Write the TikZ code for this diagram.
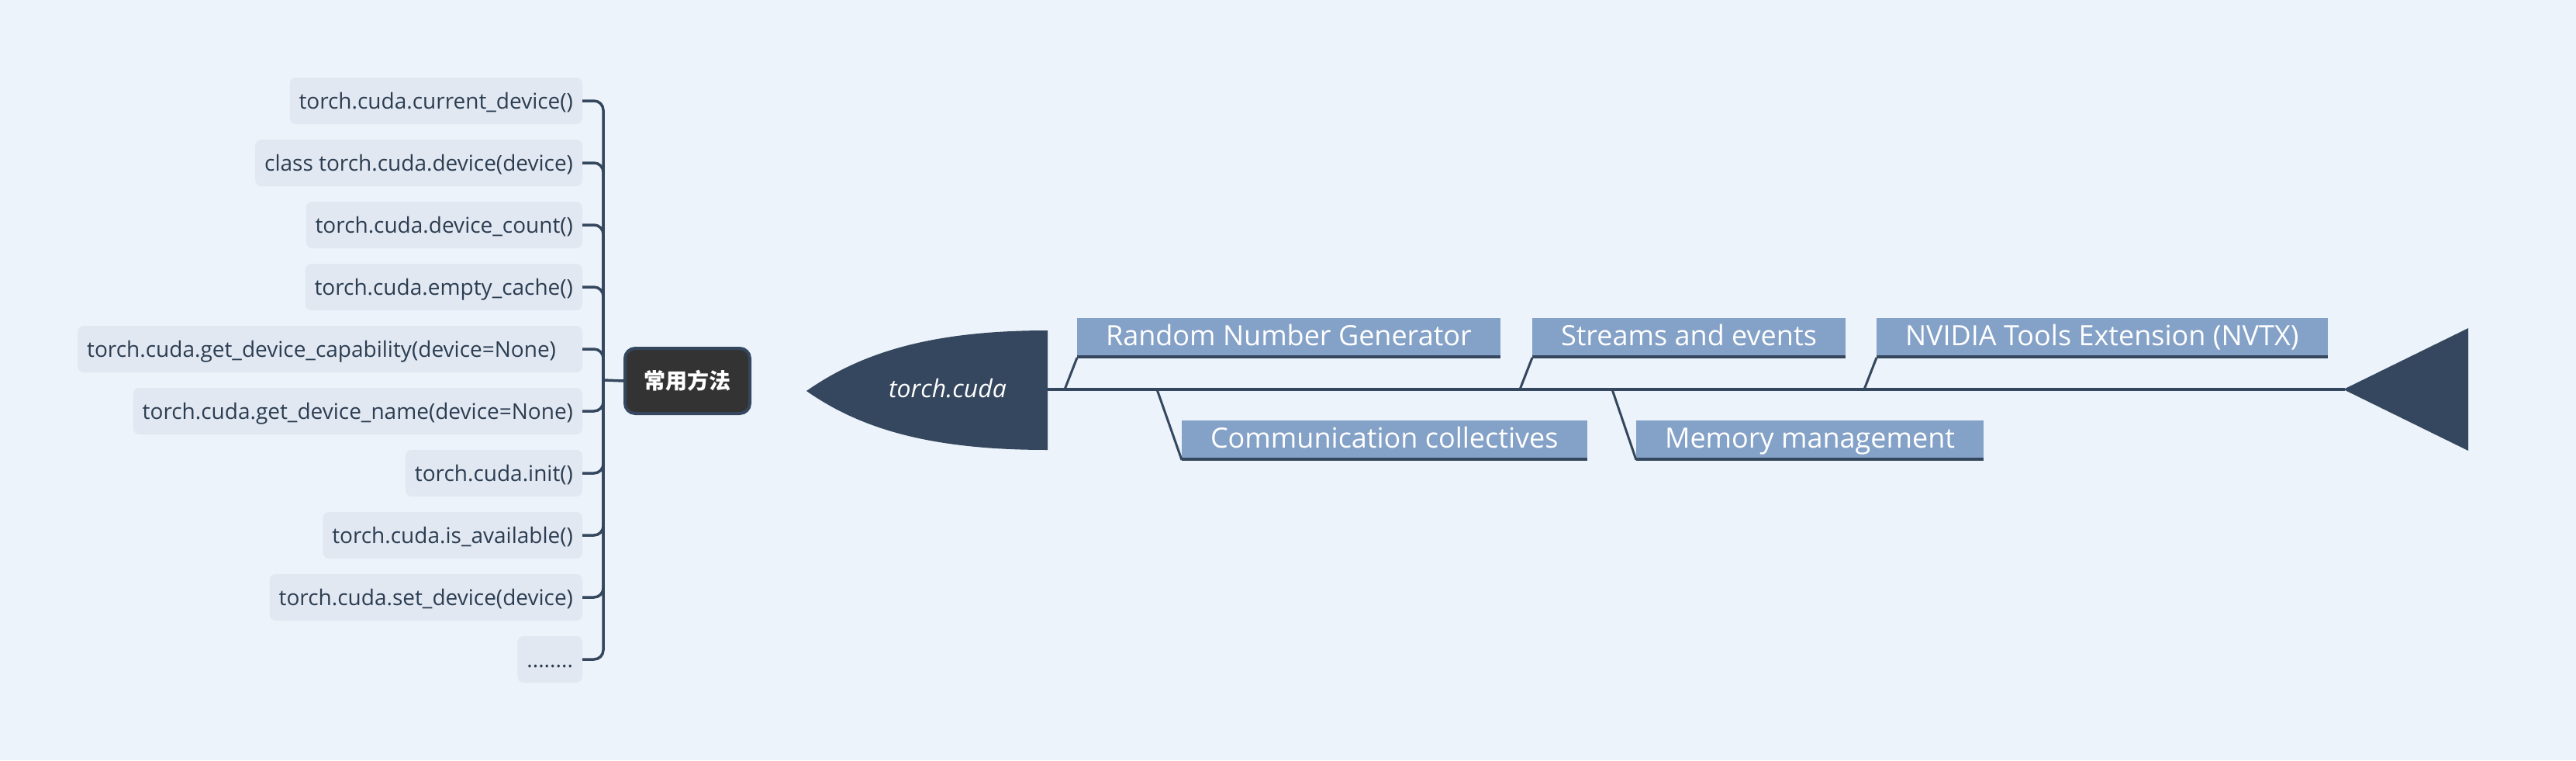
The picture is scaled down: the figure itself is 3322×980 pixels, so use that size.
\documentclass[tikz,border=0pt]{standalone}
\usepackage{fontspec}
\setmainfont{Open Sans}
\newfontfamily\cjk{Noto Sans CJK SC}
\definecolor{bg}{HTML}{ECF3FA}
\definecolor{itemfill}{HTML}{E1E8F1}
\definecolor{itemtext}{HTML}{2C3D52}
\definecolor{bone}{HTML}{35475E}
\definecolor{topicfill}{HTML}{84A1C8}
\definecolor{darkbox}{HTML}{333333}
\begin{document}
\begin{tikzpicture}[x=1pt,y=-1pt,
  item/.style={rectangle, rounded corners=8pt, fill=itemfill, text=itemtext,
    font=\fontsize{28}{34}\selectfont, minimum height=60pt, inner xsep=12pt,
    inner ysep=0pt, outer sep=0pt, text height=24pt, text depth=4pt, anchor=east},
  conn/.style={draw=bone, line width=3.5pt, rounded corners=12pt},
  topic/.style={rectangle, fill=topicfill, text=white,
    font=\fontsize{36}{44}\selectfont, minimum height=48pt, inner xsep=37pt,
    inner ysep=0pt, outer sep=0pt, text height=28pt, text depth=6pt},
  bonelink/.style={draw=bone, line width=3pt},
  ul/.style={draw=bone, line width=4pt},
  spine/.style={draw=bone, line width=4pt}
]
\useasboundingbox (0,0) rectangle (3322,980);
\fill[bg] (0,0) rectangle (3322,980);

% left list
\node[item] (i1) at (751,130) {torch.cuda.current\_device()};
\node[item] (i2) at (751,210) {class torch.cuda.device(device)};
\node[item] (i3) at (751,290) {torch.cuda.device\_count()};
\node[item] (i4) at (751,370) {torch.cuda.empty\_cache()};
\node[item] (i5) at (751,450) {torch.cuda.get\_device\_capability(device=None)\kern22pt};
\node[item] (i6) at (751,530) {torch.cuda.get\_device\_name(device=None)};
\node[item] (i7) at (751,610) {torch.cuda.init()};
\node[item] (i8) at (751,690) {torch.cuda.is\_available()};
\node[item] (i9) at (751,770) {torch.cuda.set\_device(device)};
\node[item] (i10) at (751,850) {........};

\node[rectangle, rounded corners=13pt, fill=darkbox, draw=bone, line width=4pt,
  minimum width=161pt, minimum height=84pt, inner sep=0pt, text=white,
  font=\cjk\bfseries\fontsize{28}{34}\selectfont] (cy) at (886.5,491) {常用方法};
\coordinate (hub) at (778,490);
\draw[conn] (hub) -- (cy.west);
\foreach \i in {1,...,10}{
  \draw[conn] (i\i.east) -| (hub);
}

% fishbone head
\fill[bone] (1040,504) .. controls (1110,455) and (1200,426) .. (1351,426)
  -- (1351,580) .. controls (1200,580) and (1110,553) .. (1040,504) -- cycle;
\node[text=white, font=\itshape\fontsize{32}{38}\selectfont, anchor=base] (head) at (1222,512) {torch.cuda};
% tail
\fill[bone] (3022,502) -- (3183,423) -- (3183,581) -- cycle;
\coordinate (headR) at (1351,502);
\coordinate (tailL) at (3024,502);
\draw[spine] (headR) -- (tailL);

% upper topics
\node[topic, anchor=south west] (t1) at (1389,458) {Random Number Generator};
\node[topic, anchor=south west] (t2) at (1976,458) {Streams and events};
\node[topic, anchor=south west] (t3) at (2420,458) {NVIDIA Tools Extension (NVTX)};
% lower topics
\node[topic, anchor=north west] (t4) at (1524,542) {Communication collectives};
\node[topic, anchor=north west] (t5) at (2110,542) {Memory management};

\foreach \t in {t1,t2,t3,t4,t5}{
  \draw[ul] ([yshift=-2pt]\t.south west) -- ([yshift=-2pt]\t.south east);
}
\coordinate (b1) at (1373,502);
\coordinate (b2) at (1960,502);
\coordinate (b3) at (2404,502);
\coordinate (b4) at (1492,502);
\coordinate (b5) at (2079,502);
\draw[bonelink] (b1) -- ([yshift=-3pt]t1.south west);
\draw[bonelink] (b2) -- ([yshift=-3pt]t2.south west);
\draw[bonelink] (b3) -- ([yshift=-3pt]t3.south west);
\draw[bonelink] (b4) -- ([yshift=-3pt]t4.south west);
\draw[bonelink] (b5) -- ([yshift=-3pt]t5.south west);
\end{tikzpicture}
\end{document}
